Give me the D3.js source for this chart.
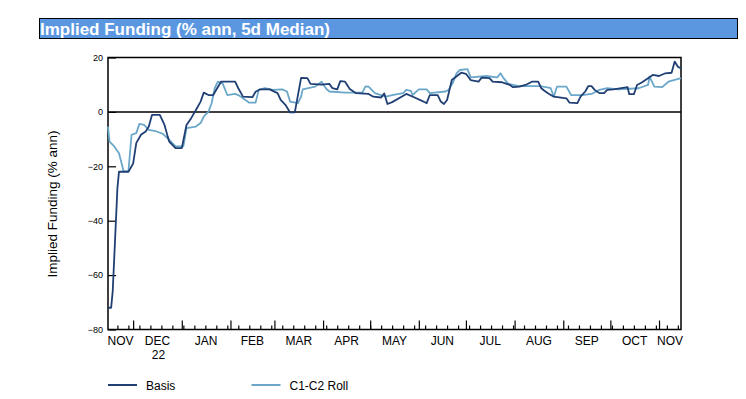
<!DOCTYPE html>
<head>
  <meta charset="utf-8">
  <title>Implied Funding</title>
  <style>
    body { margin: 0; background: #fff; }
    svg text { font-family: "Liberation Sans", Arial, sans-serif; }
  </style>
</head>
<body>
<svg width="746" height="399"></svg>
<script src="https://d3js.org/d3.v7.min.js"></script>
<script>

// values
var basisDates = ["2022-11-15","2022-11-17","2022-11-18","2022-11-21","2022-11-22","2022-11-28","2022-12-01","2022-12-03",
  "2022-12-06","2022-12-09","2022-12-11","2022-12-13","2022-12-18","2022-12-21","2022-12-23","2022-12-24","2022-12-28",
  "2023-01-01","2023-01-04","2023-01-07","2023-01-10","2023-01-13","2023-01-15","2023-01-18","2023-01-21","2023-01-26",
  "2023-02-04","2023-02-06","2023-02-09","2023-02-15","2023-02-17","2023-02-20","2023-02-26","2023-03-03","2023-03-05",
  "2023-03-08","2023-03-11","2023-03-14","2023-03-18","2023-03-22","2023-03-24","2023-03-31","2023-04-05","2023-04-07",
  "2023-04-10","2023-04-12","2023-04-15","2023-04-18","2023-04-22","2023-04-30","2023-05-03","2023-05-08","2023-05-10",
  "2023-05-12","2023-05-15","2023-05-21","2023-05-24","2023-05-29","2023-06-04","2023-06-06","2023-06-08","2023-06-13",
  "2023-06-15","2023-06-17","2023-06-19","2023-06-22","2023-06-28","2023-07-01","2023-07-04","2023-07-09","2023-07-11",
  "2023-07-16","2023-07-18","2023-07-24","2023-07-26","2023-07-29","2023-07-31","2023-08-04","2023-08-08","2023-08-12",
  "2023-08-16","2023-08-18","2023-08-20","2023-08-23","2023-08-26","2023-09-03","2023-09-05","2023-09-10","2023-09-12",
  "2023-09-15","2023-09-17","2023-09-19","2023-09-21","2023-09-24","2023-09-27","2023-09-29","2023-10-03","2023-10-12",
  "2023-10-13","2023-10-16","2023-10-18","2023-10-21","2023-10-25","2023-10-28","2023-11-01","2023-11-05","2023-11-09",
  "2023-11-11","2023-11-13","2023-11-15"];
var basisValues = [-72,-72,-66,-28,-22,-22,-19,-11.5,
  -8.4,-7.2,-5.4,-1.1,-1.1,-4.8,-9,-10.9,-13.3,
  -13.3,-4.8,-2.3,0.7,3.8,7.1,6.2,6.2,11.1,
  11.1,8.7,5.6,5.4,7.4,8.3,8.3,6.9,4.4,
  2.6,-0.2,-0.2,12.5,12.4,10.3,10.0,10.3,8.7,
  8.3,11.3,11.1,8.4,6.9,6.6,5.6,5.3,6.8,
  2.9,3.6,5.6,6.6,5.4,3.8,3.2,6.2,6.2,
  3.8,2.9,4.4,11.7,14.4,14.0,11.7,11.1,12.6,
  12.4,11.1,10.9,10.5,9.9,9.1,9.3,9.9,11.1,
  11.1,8.7,7.8,6.6,5.6,5.0,3.4,3.2,5.6,
  7.5,9.5,9.5,8.1,6.9,6.9,8.1,8.3,9.1,
  6.5,6.5,9.9,10.8,12.4,13.6,13.2,14.2,14.4,
  18.5,16.6,16.0];

var rollDates = ["2022-11-15","2022-11-16","2022-11-19","2022-11-22","2022-11-25","2022-11-28","2022-11-30","2022-12-03",
  "2022-12-05","2022-12-08","2022-12-11","2022-12-16","2022-12-20","2022-12-24","2022-12-28","2023-01-02","2023-01-04",
  "2023-01-10","2023-01-13","2023-01-15","2023-01-18","2023-01-20","2023-01-22","2023-01-24","2023-01-27","2023-01-30",
  "2023-02-04","2023-02-06","2023-02-09","2023-02-13","2023-02-17","2023-02-19","2023-02-23","2023-02-28","2023-03-06",
  "2023-03-09","2023-03-11","2023-03-16","2023-03-18","2023-03-19","2023-03-27","2023-03-31","2023-04-03","2023-04-05",
  "2023-04-15","2023-04-26","2023-04-28","2023-04-30","2023-05-04","2023-05-11","2023-05-15","2023-05-22","2023-05-24",
  "2023-05-27","2023-05-28","2023-06-01","2023-06-06","2023-06-08","2023-06-18","2023-06-20","2023-06-23","2023-06-25",
  "2023-06-27","2023-07-02","2023-07-04","2023-07-14","2023-07-21","2023-07-23","2023-07-25","2023-07-28","2023-08-04",
  "2023-08-17","2023-08-21","2023-08-24","2023-08-26","2023-08-28","2023-09-03","2023-09-06","2023-09-13","2023-09-19",
  "2023-09-24","2023-09-29","2023-10-06","2023-10-19","2023-10-25","2023-10-26","2023-10-29","2023-11-03","2023-11-07",
  "2023-11-15"];
var rollValues = [-5.4,-10.9,-12.7,-15.2,-21.9,-21.9,-8.4,-7.8,
  -4.4,-4.8,-6.6,-7.2,-8.1,-10.3,-12.7,-12.7,-6.0,
  -5.4,-4.1,-1.7,0.1,3.2,8.7,11.1,10.5,6.2,
  6.6,6.2,5.0,3.4,3.4,8.1,8.7,8.1,8.3,
  7.5,3.8,3.2,5.6,8.3,9.3,11.1,8.5,7.5,
  7.1,7.1,9.4,9.3,6.9,5.6,6.2,6.9,8.1,
  7.7,6.2,8.3,8.3,6.9,7.5,8.1,11.1,14.2,
  15.4,15.7,12.7,13.2,12.7,14.2,12.4,10.3,9.5,
  9.5,9.1,8.7,5.6,9.3,9.3,6.2,6.2,6.6,
  8.1,8.7,8.3,8.7,9.9,13.0,9.3,9.1,11.1,
  12.4];

var yTicks = [20, 0, -20, -40, -60, -80];
var monthNames = ["JAN","FEB","MAR","APR","MAY","JUN","JUL","AUG","SEP","OCT","NOV","DEC"];
var yearLabel = { month: "2022-12", text: "22" };
var seriesNames = ["Basis", "C1-C2 Roll"];
var seriesColors = ["#203f74", "#6ba7c8"];

var parse = d3.timeParse("%Y-%m-%d");
var series = [
  basisDates.map(function(d, i) { return { date: parse(d), value: basisValues[i] }; }),
  rollDates.map(function(d, i) { return { date: parse(d), value: rollValues[i] }; })
];

var svg = d3.select("svg");
var plotLeft = 108, plotRight = 681, plotTop = 57.5, plotBottom = 329.5;

var x = d3.scaleTime()
    .domain([parse("2022-11-15"), parse("2023-11-15")])
    .range([plotLeft, plotRight]);
var y = d3.scaleLinear().domain([-80, 20]).range([plotBottom, plotTop]);

// title bar
svg.append("rect")
    .attr("x", 39.5).attr("y", 18.5).attr("width", 698).attr("height", 20)
    .attr("fill", "#5b97e1").attr("stroke", "#000").attr("stroke-width", 1);
svg.append("text")
    .attr("x", 40).attr("y", 34.5)
    .attr("fill", "#fff").attr("font-weight", "bold").attr("font-size", 17)
    .text("Implied Funding (% ann, 5d Median)");

// y axis, ticks point inward
var yAxis = svg.append("g")
    .attr("transform", "translate(" + plotLeft + ",0)")
    .call(d3.axisLeft(y).tickValues(yTicks).tickSize(-8).tickPadding(5));
yAxis.select(".domain").remove();
yAxis.selectAll("text").attr("font-size", 9).attr("fill", "#000")
    .style("font-family", "'Liberation Sans', Arial, sans-serif");
yAxis.selectAll("line").attr("stroke", "#000").attr("stroke-width", 1.2);

svg.append("text")
    .attr("transform", "translate(57,204) rotate(-90)")
    .attr("text-anchor", "middle")
    .attr("font-size", 13.5)
    .text("Implied Funding (% ann)");

// x axis: weekly short ticks, monthly tall ticks
var xWeek = svg.append("g")
    .attr("transform", "translate(0," + plotBottom + ")")
    .call(d3.axisBottom(x).ticks(d3.timeMonday).tickSize(-4).tickFormat(""));
var xMonth = svg.append("g")
    .attr("transform", "translate(0," + plotBottom + ")")
    .call(d3.axisBottom(x).ticks(d3.timeMonth).tickSize(-9).tickFormat(""));
[xWeek, xMonth].forEach(function(g) {
  g.select(".domain").remove();
  g.selectAll("text").remove();
  g.selectAll("line").attr("stroke", "#000").attr("stroke-width", 1.2);
});

// month labels centred in the visible part of each month
var d0 = x.domain()[0], d1 = x.domain()[1];
var months = d3.timeMonth.range(d3.timeMonth.floor(d0), d1);
var fmtMonth = d3.timeFormat("%Y-%m");
months.forEach(function(m) {
  var a = m < d0 ? d0 : m;
  var b = d3.timeMonth.offset(m, 1) > d1 ? d1 : d3.timeMonth.offset(m, 1);
  var cx = (x(a) + x(b)) / 2;
  svg.append("text")
      .attr("x", cx).attr("y", plotBottom + 15)
      .attr("text-anchor", "middle").attr("font-size", 12)
      .text(monthNames[m.getMonth()]);
  if (fmtMonth(m) === yearLabel.month) {
    svg.append("text")
        .attr("x", cx + 1).attr("y", plotBottom + 29)
        .attr("text-anchor", "middle").attr("font-size", 12)
        .text(yearLabel.text);
  }
});

// frame and zero line
svg.append("rect")
    .attr("x", plotLeft).attr("y", plotTop).attr("width", plotRight - plotLeft).attr("height", plotBottom - plotTop)
    .attr("fill", "none").attr("stroke", "#000").attr("stroke-width", 1.5);
svg.append("line")
    .attr("x1", plotLeft).attr("x2", plotRight).attr("y1", y(0)).attr("y2", y(0))
    .attr("stroke", "#000").attr("stroke-width", 1.5);

var line = d3.line()
    .x(function(d) { return x(d.date); })
    .y(function(d) { return y(d.value); });

// roll drawn first so basis sits on top
[1, 0].forEach(function(i) {
  svg.append("path")
      .datum(series[i])
      .attr("fill", "none")
      .attr("stroke", seriesColors[i])
      .attr("stroke-width", 1.8)
      .attr("stroke-linejoin", "round")
      .attr("d", line);
});

// legend
var legendX = [108, 251.5];
seriesNames.forEach(function(name, i) {
  svg.append("line")
      .attr("x1", legendX[i]).attr("x2", legendX[i] + 29)
      .attr("y1", 385).attr("y2", 385)
      .attr("stroke", seriesColors[i]).attr("stroke-width", 2);
  svg.append("text")
      .attr("x", legendX[i] + 38).attr("y", 389.5)
      .attr("font-size", 12)
      .text(name);
});

</script>
</body>
